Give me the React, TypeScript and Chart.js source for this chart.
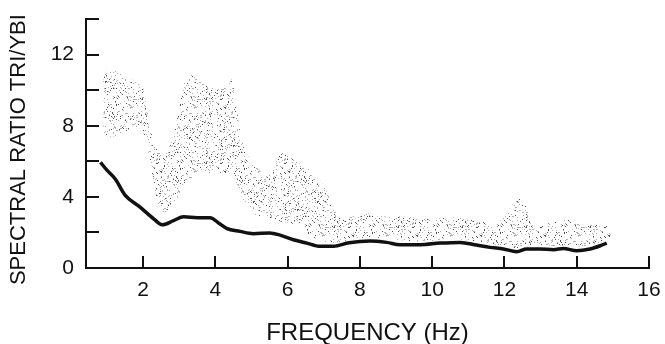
import React, { useEffect, useRef } from "react";
import { Chart, registerables } from "chart.js";

Chart.register(...registerables);

// Black curve: mean spectral ratio
const lineX = [0.82, 1.0, 1.23, 1.5, 1.9, 2.3, 2.53, 2.84, 3.12, 3.5, 3.85, 4.13, 4.31, 4.68, 5.05, 5.5, 5.79, 6.16, 6.53, 6.9, 7.27, 7.7, 8.28, 8.74, 9.11, 9.67, 10.22, 10.77, 11.23, 11.6, 11.97, 12.34, 12.61, 12.98, 13.36, 13.63, 14.0, 14.37, 14.65, 14.83];
const lineY = [5.94, 5.5, 5.0, 4.1, 3.45, 2.75, 2.43, 2.66, 2.88, 2.83, 2.83, 2.47, 2.23, 2.06, 1.93, 1.97, 1.85, 1.59, 1.4, 1.22, 1.22, 1.42, 1.52, 1.44, 1.31, 1.31, 1.4, 1.44, 1.29, 1.16, 1.07, 0.92, 1.07, 1.07, 1.03, 1.1, 0.97, 1.07, 1.25, 1.4];

// Stippled band: range of individual ratios
const bandX = [0.9, 1.0, 1.2, 1.5, 1.75, 2.0, 2.1, 2.2, 2.3, 2.4, 2.5, 2.6, 2.8, 3.0, 3.15, 3.3, 3.5, 3.7, 4.0, 4.3, 4.45, 4.6, 4.75, 4.9, 5.1, 5.35, 5.6, 5.8, 6.0, 6.3, 6.6, 6.9, 7.1, 7.3, 7.5, 7.8, 8.1, 8.5, 8.8, 9.2, 9.6, 10.0, 10.5, 11.0, 11.4, 11.7, 12.0, 12.2, 12.4, 12.6, 12.8, 13.0, 13.4, 13.8, 14.2, 14.6, 14.95];
const bandHigh = [10.6, 11.1, 11.1, 10.8, 10.5, 10.1, 9.0, 7.8, 7.2, 6.7, 6.4, 6.3, 7.2, 9.0, 10.4, 10.8, 10.8, 10.3, 10.1, 10.2, 10.6, 8.8, 7.0, 6.3, 5.75, 5.3, 5.5, 6.5, 6.3, 5.9, 5.5, 4.9, 4.2, 3.3, 2.75, 2.9, 3.1, 2.9, 2.9, 2.9, 2.8, 2.75, 2.85, 2.75, 2.6, 2.4, 2.9, 3.5, 3.9, 3.5, 2.3, 2.4, 2.6, 2.75, 2.4, 2.45, 2.35];
const bandLow = [7.6, 7.4, 7.4, 7.6, 8.0, 7.6, 7.0, 5.8, 4.7, 3.7, 3.3, 3.1, 3.5, 4.1, 4.5, 4.9, 5.1, 5.3, 5.4, 5.3, 5.3, 4.7, 3.9, 3.5, 3.0, 2.85, 2.75, 2.6, 2.55, 2.4, 1.85, 1.55, 1.45, 1.42, 1.5, 1.6, 1.7, 1.7, 1.65, 1.55, 1.5, 1.55, 1.6, 1.55, 1.45, 1.35, 1.25, 1.15, 1.1, 1.2, 1.25, 1.25, 1.25, 1.25, 1.2, 1.4, 1.6];

const xTickValues = [2, 4, 6, 8, 10, 12, 14, 16];
const yLabelValues = [0, 4, 8, 12];
const xTitle = "FREQUENCY (Hz)";
const yTitle = "SPECTRAL RATIO TRI/YBI  ";

const FONT = "'Liberation Sans', Arial, Helvetica, sans-serif";
const INK = "#111111";

function makeStipple(): CanvasPattern | string {
  const c = document.createElement("canvas");
  c.width = 64;
  c.height = 64;
  const g = c.getContext("2d");
  if (!g) return "rgba(120,120,120,0.3)";
  for (let yy = 0; yy < 64; yy++) {
    for (let xx = 0; xx < 64; xx++) {
      let h = (Math.imul(xx, 374761393) + Math.imul(yy, 668265263)) | 0;
      h = Math.imul(h ^ (h >>> 13), 1274126177);
      h = h ^ (h >>> 16);
      const r = (h >>> 0) % 1000;
      if (r < 130) {
        g.fillStyle = r < 45 ? "rgba(40,40,40,0.8)" : "rgba(110,110,110,0.55)";
        g.fillRect(xx, yy, 1, 1);
      }
    }
  }
  return g.createPattern(c, "repeat") || "rgba(120,120,120,0.3)";
}

const inwardTicks = {
  id: "inwardTicks",
  afterDraw(chart: any) {
    const { ctx, chartArea, scales } = chart;
    ctx.save();
    ctx.strokeStyle = INK;
    ctx.lineWidth = 2;
    const xs = scales.x;
    const ys = scales.y;
    for (const t of xs.ticks) {
      const px = Math.round(xs.getPixelForValue(t.value));
      ctx.beginPath();
      ctx.moveTo(px, chartArea.bottom);
      ctx.lineTo(px, chartArea.bottom - 12);
      ctx.stroke();
    }
    for (const t of ys.ticks) {
      if (t.value === 0) continue;
      const py = Math.round(ys.getPixelForValue(t.value));
      ctx.beginPath();
      ctx.moveTo(chartArea.left, py);
      ctx.lineTo(chartArea.left + 13, py);
      ctx.stroke();
    }
    ctx.restore();
  },
};

export default function App() {
  const ref = useRef<HTMLCanvasElement | null>(null);

  useEffect(() => {
    if (!ref.current) return;
    const stipple = makeStipple();
    const chart = new Chart(ref.current, {
      type: "line",
      data: {
        datasets: [
          {
            label: "mean",
            data: lineX.map((x, i) => ({ x, y: lineY[i] })),
            borderColor: INK,
            borderWidth: 3.5,
            pointRadius: 0,
            cubicInterpolationMode: "monotone",
            fill: false,
          },
          {
            label: "high",
            data: bandX.map((x, i) => ({ x, y: bandHigh[i] })),
            borderWidth: 0,
            borderColor: "rgba(0,0,0,0)",
            backgroundColor: stipple as any,
            pointRadius: 0,
            tension: 0.3,
            fill: 2,
          },
          {
            label: "low",
            data: bandX.map((x, i) => ({ x, y: bandLow[i] })),
            borderWidth: 0,
            borderColor: "rgba(0,0,0,0)",
            pointRadius: 0,
            tension: 0.3,
            fill: false,
          },
        ],
      },
      options: {
        animation: false,
        responsive: false,
        devicePixelRatio: 1,
        events: [],
        layout: { padding: { left: 0, top: 19, right: 16, bottom: 0 } },
        plugins: {
          legend: { display: false },
          tooltip: { enabled: false },
        },
        scales: {
          x: {
            type: "linear",
            min: 0.42,
            max: 16,
            grid: { display: false, drawTicks: false },
            border: { display: true, color: INK, width: 2 },
            afterBuildTicks: (scale: any) => {
              scale.ticks = xTickValues.map((v) => ({ value: v }));
            },
            afterFit: (scale: any) => {
              scale.height = 76;
              scale.paddingLeft = 0;
              scale.paddingRight = 0;
            },
            ticks: {
              color: INK,
              padding: 10,
              maxRotation: 0,
              font: { family: FONT, size: 21 },
              callback: (v: any) => String(v),
            },
            title: {
              display: true,
              text: xTitle,
              color: INK,
              font: { family: FONT, size: 24, lineHeight: 1 },
              padding: { top: 0, bottom: -1 },
            },
          },
          y: {
            type: "linear",
            min: 0,
            max: 14,
            grid: { display: false, drawTicks: false },
            border: { display: true, color: INK, width: 2 },
            afterFit: (scale: any) => {
              scale.width = 86;
              scale.paddingTop = 0;
              scale.paddingBottom = 0;
            },
            ticks: {
              stepSize: 2,
              color: INK,
              padding: 12,
              font: { family: FONT, size: 21 },
              callback: (v: any) => (yLabelValues.includes(Number(v)) ? String(v) : ""),
            },
            title: {
              display: true,
              text: yTitle,
              color: INK,
              font: { family: FONT, size: 22, lineHeight: 1 },
              padding: { top: 8, bottom: 0 },
            },
          },
        },
      },
      plugins: [inwardTicks],
    } as any);
    return () => chart.destroy();
  }, []);

  return (
    <div style={{ position: "fixed", left: 0, top: 0, width: 665, height: 344, background: "#fff" }}>
      <canvas ref={ref} width={665} height={344} style={{ width: 665, height: 344 }} />
    </div>
  );
}
